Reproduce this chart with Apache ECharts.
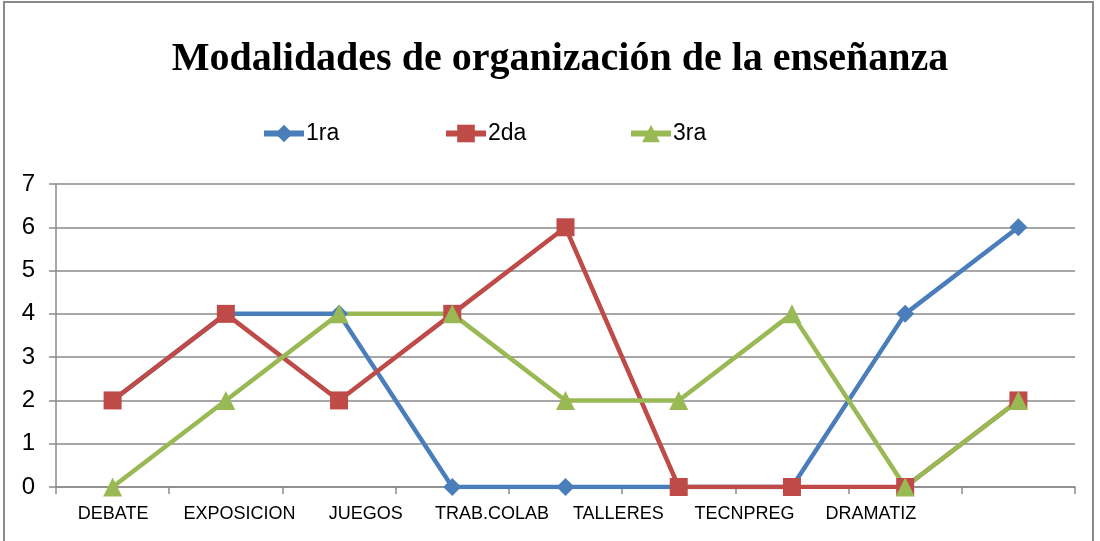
<!DOCTYPE html>
<html>
<head>
<meta charset="utf-8">
<title>Modalidades de organización de la enseñanza</title>
<script src="https://cdn.jsdelivr.net/npm/echarts@6/dist/echarts.min.js"></script>
<style>
    html, body { margin: 0; padding: 0; background: #fff; }
    #main { width: 1100px; height: 541px; }
</style>
</head>
<body>
<div id="main"></div>
<script>
// datos
var puntos = ['1', '2', '3', '4', '5', '6', '7', '8', '9'];
var etiquetas = ['DEBATE', 'EXPOSICION', 'JUEGOS', 'TRAB.COLAB', 'TALLERES', 'TECNPREG', 'DRAMATIZ'];
var nombres = ['1ra', '2da', '3ra'];
var serie1ra = [2, 4, 4, 0, 0, 0, 0, 4, 6];
var serie2da = [2, 4, 2, 4, 6, 0, 0, 0, 2];
var serie3ra = [0, 2, 4, 4, 2, 2, 4, 0, 2];

var fuente = "'Liberation Sans', Arial, sans-serif";
var gris = '#8a8a8a';

function leyenda(nombre, izq) {
    return {
        left: izq,
        top: 117,
        itemWidth: 40,
        itemHeight: 22,
        textStyle: { fontFamily: fuente, fontSize: 23, color: '#000', padding: [0, 0, 0, -3] },
        lineStyle: { width: 6 },
        data: [nombre]
    };
}

var myChart = echarts.init(document.getElementById('main'));

var option = {
    backgroundColor: '#fff',
    animation: false,
    title: {
        text: 'Modalidades de organización de la enseñanza',
        left: 555,
        textAlign: 'center',
        top: 35,
        textStyle: {
            fontFamily: "'Liberation Serif', 'Times New Roman', serif",
            fontWeight: 'bold',
            fontSize: 40,
            color: '#000'
        }
    },
    legend: [leyenda(nombres[0], 256), leyenda(nombres[1], 438), leyenda(nombres[2], 623)],
    graphic: [{
        type: 'rect',
        silent: true,
        shape: { x: 4, y: 2, width: 1089, height: 600 },
        style: { fill: 'none', stroke: gris, lineWidth: 2 }
    }],
    grid: [
        { left: 56, right: 25, top: 184, bottom: 54 },
        { left: 50, right: 166, top: 184, bottom: 54 }
    ],
    xAxis: [
        {
            type: 'category',
            gridIndex: 0,
            data: puntos,
            boundaryGap: true,
            axisLine: { lineStyle: { color: gris, width: 1.5 } },
            axisTick: { show: true, length: 7, lineStyle: { color: gris, width: 1.5 } },
            axisLabel: { show: false }
        },
        {
            type: 'category',
            gridIndex: 1,
            data: etiquetas,
            boundaryGap: true,
            axisLine: { show: false },
            axisTick: { show: false },
            axisLabel: {
                interval: 0,
                margin: 18,
                fontFamily: fuente,
                fontSize: 18,
                color: '#000'
            }
        }
    ],
    yAxis: [
        {
            type: 'value',
            gridIndex: 0,
            min: 0,
            max: 7,
            interval: 1,
            axisLine: { show: true, lineStyle: { color: gris, width: 1.5 } },
            axisTick: { show: true, length: 7, lineStyle: { color: gris, width: 1.5 } },
            axisLabel: { margin: 21, fontFamily: fuente, fontSize: 24, color: '#000' },
            splitLine: { show: true, lineStyle: { color: gris, width: 1.5 } }
        },
        {
            type: 'value',
            gridIndex: 1,
            show: false,
            min: 0,
            max: 7
        }
    ],
    series: [
        {
            name: nombres[0],
            type: 'line',
            data: serie1ra,
            symbol: 'diamond',
            symbolSize: 18,
            color: '#4a7ebb',
            lineStyle: { width: 4.5, color: '#4a7ebb' },
            itemStyle: { color: '#4a7ebb' }
        },
        {
            name: nombres[1],
            type: 'line',
            data: serie2da,
            symbol: 'rect',
            symbolSize: 18,
            color: '#be4b48',
            lineStyle: { width: 4.5, color: '#be4b48' },
            itemStyle: { color: '#be4b48' }
        },
        {
            name: nombres[2],
            type: 'line',
            data: serie3ra,
            symbol: 'triangle',
            symbolSize: 19,
            color: '#98b954',
            lineStyle: { width: 4.5, color: '#98b954' },
            itemStyle: { color: '#98b954' }
        }
    ]
};

myChart.setOption(option);
</script>
</body>
</html>
